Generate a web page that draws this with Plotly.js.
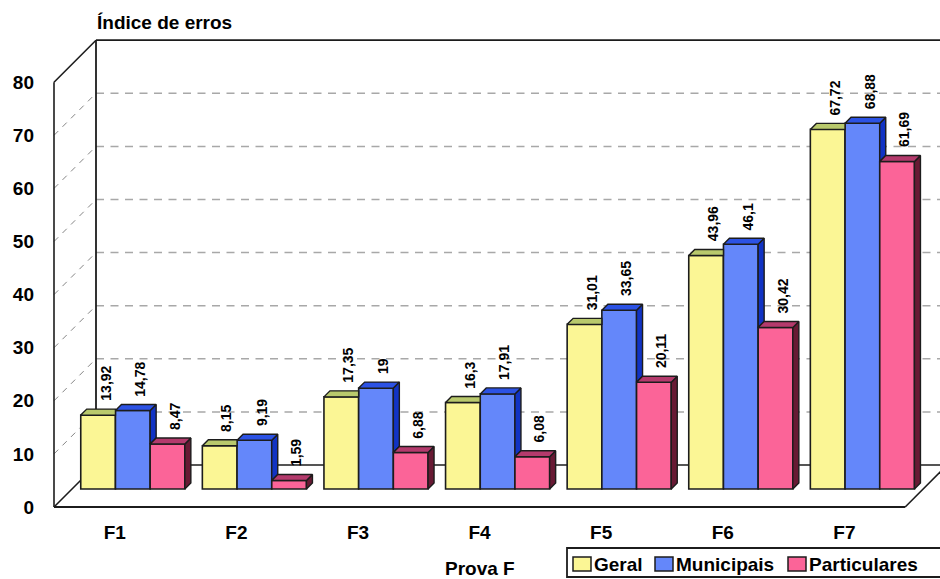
<!DOCTYPE html>
<html>
<head>
<meta charset="utf-8">
<script src="https://cdn.plot.ly/plotly-3.0.1.min.js"></script>
<style>html,body{margin:0;padding:0;background:#fff;overflow:hidden}</style>
</head>
<body>
<div id="chart" style="width:940px;height:579px"></div>
<script>
// Error rates per question of test F, by school type
const categories = ['F1', 'F2', 'F3', 'F4', 'F5', 'F6', 'F7'];
const geral = [13.92, 8.15, 17.35, 16.3, 31.01, 43.96, 67.72];
const municipais = [14.78, 9.19, 19, 17.91, 33.65, 46.1, 68.88];
const particulares = [8.47, 1.59, 6.88, 6.08, 20.11, 30.42, 61.69];
const seriesNames = ['Geral', 'Municipais', 'Particulares'];
const yTicks = [0, 10, 20, 30, 40, 50, 60, 70, 80];

const seriesValues = [geral, municipais, particulares];
const frontColors = ['#FBF695', '#6487FA', '#FB6498'];
const topColors = ['#B9C96C', '#2C52E4', '#B43A6C'];
const sideColors = ['#8A8A40', '#1133C4', '#681A34'];
const ink = '#1c1c1c';
const FONT = '"Liberation Sans", Arial, sans-serif';

// Pseudo-3D frame geometry, in pixels of the page
const W = 940, H = 579;
const marginL = 52, marginT = 38, marginB = 70;
const floorLeft = 54, floorY = 507;
const pxPerCategory = 121.6, pxPerUnit = 5.31;
const wallDepth = 42;     // offset of the back wall from the front edge
const barInset = 18;      // offset of the bar plane from the front edge
const barDepth = 6;       // depth of each bar
const barPx = 34.7;

// Axis ranges so one category = pxPerCategory and one unit = pxPerUnit
const firstTickPx = floorLeft + pxPerCategory / 2;
const xRange = [(marginL - firstTickPx) / pxPerCategory, (W - firstTickPx) / pxPerCategory];
const yRange = [(floorY - (H - marginB)) / pxPerUnit, (floorY - marginT) / pxPerUnit];

const dxU = px => px / pxPerCategory;
const dyU = px => px / pxPerUnit;
const xFront = -0.5, xEnd = xFront + categories.length;
const wx = dxU(wallDepth), wy = dyU(wallDepth);
const barBase = dyU(barInset);
const barW = dxU(barPx);
const barCentre = (i, s) => i + dxU(barInset) + (s - 1) * barW;

// Frame and gridlines live under the traces
const frameLine = (x0, y0, x1, y1, color, width, dash) => ({
  type: 'line', layer: 'below', xref: 'x', yref: 'y', x0, y0, x1, y1,
  line: {color, width, dash: dash || 'solid'}
});
const shapes = [];
yTicks.slice(1, -1).forEach(v => {
  shapes.push(frameLine(xFront, v, xFront + wx, v + wy, '#858585', 1, '6px,6px'));
  shapes.push(frameLine(xFront + wx, v + wy, xRange[1], v + wy, '#a8a8a8', 1.5, '8px,6.5px'));
});
const topTick = yTicks[yTicks.length - 1];
shapes.push(frameLine(xFront, 0, xFront, topTick, ink, 1.6));
shapes.push(frameLine(xFront, topTick, xFront + wx, topTick + wy, ink, 1.6));
shapes.push(frameLine(xFront + wx, wy, xFront + wx, topTick + wy, ink, 1.8));
shapes.push(frameLine(xFront + wx, topTick + wy, xRange[1], topTick + wy, ink, 1.8));
shapes.push(frameLine(xFront, 0, xEnd, 0, ink, 1.8));
shapes.push(frameLine(xFront, 0, xFront + wx, wy, ink, 1.6));
shapes.push(frameLine(xFront + wx, wy, xRange[1], wy, ink, 1.6));
shapes.push(frameLine(xEnd, 0, xEnd + wx, wy, ink, 1.6));

// Front faces of the bars
const traces = seriesValues.map((vals, s) => ({
  type: 'bar',
  name: seriesNames[s],
  x: categories.map((c, i) => barCentre(i, s)),
  y: vals,
  base: vals.map(() => barBase),
  width: barW,
  marker: {color: frontColors[s], line: {color: ink, width: 1.6}},
  showlegend: false,
  hoverinfo: 'skip'
}));

// Top and side faces are derived from the values, with the part hidden
// by the neighbouring bar cut away.
const ddx = dxU(barDepth), ddy = dyU(barDepth);
seriesValues.forEach((vals, s) => {
  const tx = [], ty = [], sx = [], sy = [];
  vals.forEach((v, i) => {
    const right = barCentre(i, s) + barW / 2, left = right - barW;
    const yTop = barBase + v;
    const next = s < seriesValues.length - 1 ? seriesValues[s + 1][i] : null;
    if (next !== null && next > v) {
      tx.push(left, left + ddx, right, right, left, null);
      ty.push(yTop, yTop + ddy, yTop + ddy, yTop, yTop, null);
    } else {
      tx.push(left, left + ddx, right + ddx, right, left, null);
      ty.push(yTop, yTop + ddy, yTop + ddy, yTop, yTop, null);
      const floor = next === null ? barBase : barBase + next;
      sx.push(right, right + ddx, right + ddx, right, right, null);
      sy.push(yTop, yTop + ddy, floor + ddy, floor, yTop, null);
    }
  });
  [[sx, sy, sideColors[s]], [tx, ty, topColors[s]]].forEach(([x, y, fill]) => {
    if (!x.length) return;
    traces.push({
      type: 'scatter', mode: 'lines', x, y, fill: 'toself', fillcolor: fill,
      line: {color: ink, width: 1.4}, showlegend: false, hoverinfo: 'skip'
    });
  });
});

// Value labels, rotated, with decimal commas
const annotations = [];
seriesValues.forEach((vals, s) => {
  vals.forEach((v, i) => {
    annotations.push({
      xref: 'x', yref: 'y', x: barCentre(i, s), y: barBase + v,
      xshift: 7, yshift: 12, xanchor: 'center', yanchor: 'bottom',
      text: String(v).replace('.', ','), textangle: -90, showarrow: false,
      font: {family: FONT, size: 14, color: '#000', weight: 'bold'}
    });
  });
});

const px = v => (v - marginL) / (W - marginL);
const py = v => (H - marginB - v) / (H - marginB - marginT);
const pageLabel = (text, xPx, yPx, size, xanchor) => ({
  xref: 'paper', yref: 'paper', x: px(xPx), y: py(yPx),
  xanchor: xanchor || 'left', yanchor: 'middle', text, showarrow: false,
  font: {family: FONT, size, color: '#000', weight: 'bold'}
});

annotations.push(pageLabel('Índice de erros', 95, 22, 19));
annotations.push(pageLabel('Prova F', 480, 568, 19, 'center'));

// Legend box along the bottom edge
const swatchX = [573, 655, 788];
shapes.push({
  type: 'rect', xref: 'paper', yref: 'paper', layer: 'above',
  x0: px(567), x1: px(960), y0: py(577), y1: py(548),
  fillcolor: '#fff', line: {color: ink, width: 1.8}
});
seriesNames.forEach((name, s) => {
  shapes.push({
    type: 'rect', xref: 'paper', yref: 'paper', layer: 'above',
    x0: px(swatchX[s]), x1: px(swatchX[s] + 18), y0: py(571), y1: py(557),
    fillcolor: frontColors[s], line: {color: ink, width: 1.5}
  });
  annotations.push(pageLabel(name, swatchX[s] + 19, 564, 19));
});

Plotly.newPlot('chart', traces, {
  width: W, height: H,
  margin: {l: marginL, r: 0, t: marginT, b: marginB, pad: 0},
  paper_bgcolor: '#fff', plot_bgcolor: '#fff',
  barmode: 'overlay',
  showlegend: false,
  font: {family: FONT, color: '#000'},
  xaxis: {
    type: 'linear', range: xRange, tickmode: 'array',
    tickvals: categories.map((c, i) => i), ticktext: categories,
    showgrid: false, zeroline: false, showline: false, ticks: '',
    ticklabelstandoff: 10,
    tickfont: {family: FONT, size: 19, color: '#000', weight: 'bold'}
  },
  yaxis: {
    type: 'linear', range: yRange, tickmode: 'array',
    tickvals: yTicks, ticktext: yTicks.map(String),
    showgrid: false, zeroline: false, showline: false, ticks: '',
    ticklabelstandoff: 17,
    tickfont: {family: FONT, size: 19, color: '#000', weight: 'bold'}
  },
  shapes, annotations
}, {displayModeBar: false, staticPlot: true});
</script>
</body>
</html>
